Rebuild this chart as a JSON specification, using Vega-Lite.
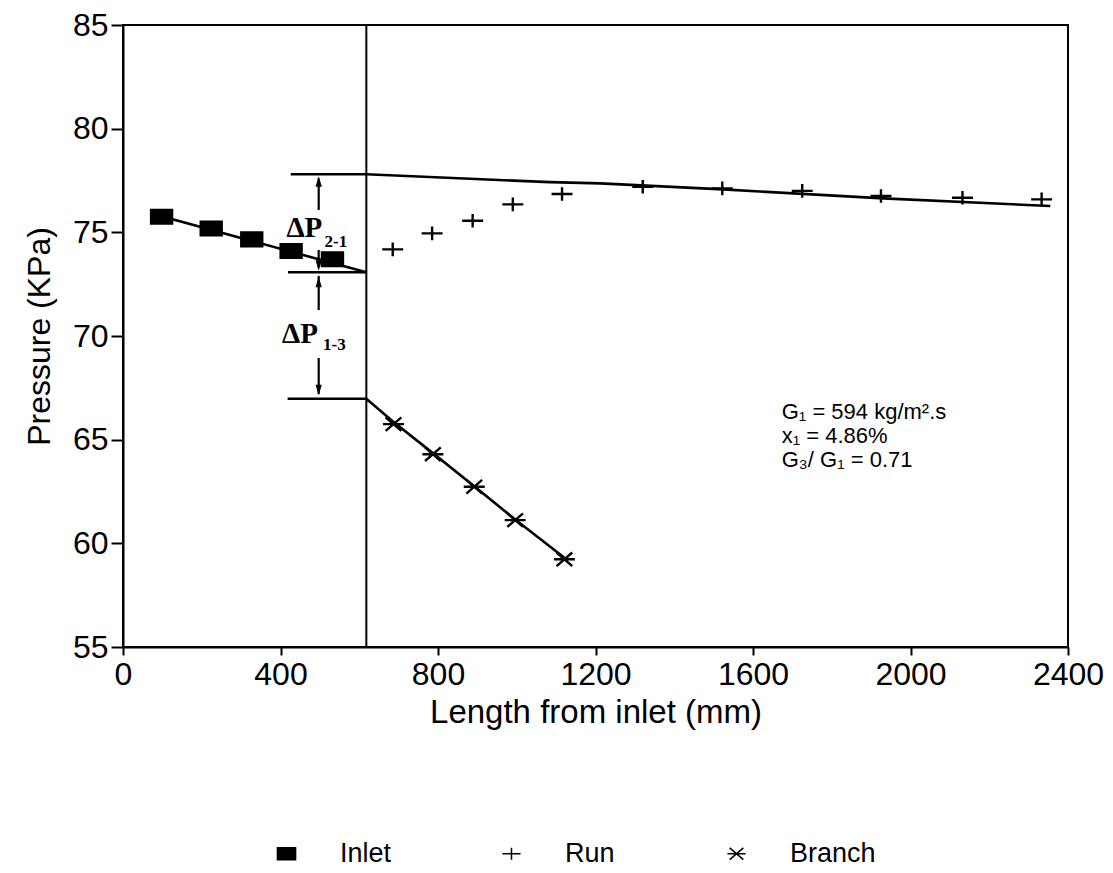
{
  "$schema": "https://vega.github.io/schema/vega-lite/v6.json",
  "autosize": {"type": "none"},
  "padding": {"left": 123, "top": 25, "right": 45, "bottom": 226},
  "width": 945,
  "height": 622,
  "background": "white",
  "config": {
    "view": {"stroke": "black", "strokeWidth": 2},
    "font": "Liberation Sans",
    "axis": {
      "grid": false,
      "domainColor": "black",
      "domainWidth": 2,
      "tickColor": "black",
      "tickWidth": 2,
      "labelColor": "black",
      "titleColor": "black",
      "labelFont": "Liberation Sans",
      "titleFont": "Liberation Sans",
      "titleFontWeight": "normal"
    }
  },
  "datasets": {
    "markers": [
      {"x": 98, "p": 75.75, "series": "Inlet"},
      {"x": 224, "p": 75.19, "series": "Inlet"},
      {"x": 327, "p": 74.66, "series": "Inlet"},
      {"x": 427, "p": 74.1, "series": "Inlet"},
      {"x": 532, "p": 73.7, "series": "Inlet"},
      {"x": 685, "p": 74.18, "series": "Run"},
      {"x": 785, "p": 74.95, "series": "Run"},
      {"x": 888, "p": 75.56, "series": "Run"},
      {"x": 990, "p": 76.35, "series": "Run"},
      {"x": 1115, "p": 76.85, "series": "Run"},
      {"x": 1320, "p": 77.2, "series": "Run"},
      {"x": 1522, "p": 77.12, "series": "Run"},
      {"x": 1725, "p": 77.0, "series": "Run"},
      {"x": 1925, "p": 76.75, "series": "Run"},
      {"x": 2132, "p": 76.67, "series": "Run"},
      {"x": 2333, "p": 76.59, "series": "Run"},
      {"x": 687, "p": 65.75, "series": "Branch"},
      {"x": 787, "p": 64.3, "series": "Branch"},
      {"x": 892, "p": 62.73, "series": "Branch"},
      {"x": 996, "p": 61.12, "series": "Branch"},
      {"x": 1121, "p": 59.23, "series": "Branch"}
    ],
    "fits": [
      {"x": 98, "p": 75.78, "fit": "inlet"},
      {"x": 618, "p": 73.07, "fit": "inlet"},
      {"x": 426, "p": 77.8, "fit": "run"},
      {"x": 618, "p": 77.8, "fit": "run"},
      {"x": 1084, "p": 77.42, "fit": "run"},
      {"x": 1212, "p": 77.36, "fit": "run"},
      {"x": 1524, "p": 77.07, "fit": "run"},
      {"x": 1931, "p": 76.64, "fit": "run"},
      {"x": 2355, "p": 76.27, "fit": "run"},
      {"x": 618, "p": 66.97, "fit": "branch"},
      {"x": 687, "p": 65.85, "fit": "branch"},
      {"x": 787, "p": 64.35, "fit": "branch"},
      {"x": 892, "p": 62.75, "fit": "branch"},
      {"x": 996, "p": 61.15, "fit": "branch"},
      {"x": 1121, "p": 59.3, "fit": "branch"}
    ],
    "hrefs": [
      {"x": 419, "x2": 618, "p": 73.07},
      {"x": 418, "x2": 618, "p": 66.97}
    ],
    "shafts": [
      {"x": 497, "p": 76.08, "p2": 77.6},
      {"x": 497, "p": 74.15, "p2": 73.3},
      {"x": 497, "p": 72.9, "p2": 71.25},
      {"x": 497, "p": 68.94, "p2": 67.2}
    ],
    "heads_up": [
      {"x": 497, "p": 77.45},
      {"x": 497, "p": 72.6}
    ],
    "heads_down": [
      {"x": 497, "p": 73.4},
      {"x": 497, "p": 67.4}
    ],
    "dp_main": [
      {"x": 415, "p": 74.77, "t": "ΔP"},
      {"x": 404, "p": 69.66, "t": "ΔP"}
    ],
    "dp_sub": [
      {"x": 512, "p": 74.29, "t": "2-1"},
      {"x": 508, "p": 69.32, "t": "1-3"}
    ],
    "notes": [
      {"x": 1673, "p": 66.0, "t": ["G₁ = 594 kg/m².s", "x₁ = 4.86%", "G₃/ G₁ = 0.71"]}
    ],
    "vline": [{"x": 618}]
  },
  "layer": [
    {
      "data": {"name": "vline"},
      "mark": {"type": "rule", "color": "black", "strokeWidth": 2},
      "encoding": {
        "x": {"field": "x", "type": "quantitative", "scale": {"domain": [0, 2400]}}
      }
    },
    {
      "data": {"name": "hrefs"},
      "mark": {"type": "rule", "color": "black", "strokeWidth": 2.5},
      "encoding": {
        "x": {"field": "x", "type": "quantitative"},
        "x2": {"field": "x2"},
        "y": {"field": "p", "type": "quantitative"}
      }
    },
    {
      "data": {"name": "shafts"},
      "mark": {"type": "rule", "color": "black", "strokeWidth": 2.2},
      "encoding": {
        "x": {"field": "x", "type": "quantitative"},
        "y": {"field": "p", "type": "quantitative"},
        "y2": {"field": "p2"}
      }
    },
    {
      "data": {"name": "heads_up"},
      "mark": {"type": "point", "shape": "M0,-1L0.6,1L-0.6,1Z", "size": 110, "filled": true, "color": "black", "opacity": 1},
      "encoding": {
        "x": {"field": "x", "type": "quantitative"},
        "y": {"field": "p", "type": "quantitative"}
      }
    },
    {
      "data": {"name": "heads_down"},
      "mark": {"type": "point", "shape": "M0,1L0.6,-1L-0.6,-1Z", "size": 110, "filled": true, "color": "black", "opacity": 1},
      "encoding": {
        "x": {"field": "x", "type": "quantitative"},
        "y": {"field": "p", "type": "quantitative"}
      }
    },
    {
      "data": {"name": "fits"},
      "mark": {"type": "line", "color": "black", "strokeWidth": 2.6},
      "encoding": {
        "x": {"field": "x", "type": "quantitative"},
        "y": {"field": "p", "type": "quantitative"},
        "detail": {"field": "fit", "type": "nominal"}
      }
    },
    {
      "data": {"name": "markers"},
      "mark": {"type": "point", "stroke": "black", "strokeWidth": 2.4, "opacity": 1, "size": 440},
      "encoding": {
        "x": {
          "field": "x", "type": "quantitative",
          "scale": {"domain": [0, 2400], "nice": false, "zero": false},
          "axis": {
            "values": [0, 400, 800, 1200, 1600, 2000, 2400],
            "format": "d",
            "title": "Length from inlet (mm)",
            "labelFontSize": 32,
            "titleFontSize": 33,
            "tickSize": 8,
            "labelPadding": 4,
            "titlePadding": 6,
            "labelFlush": false
          }
        },
        "y": {
          "field": "p", "type": "quantitative",
          "scale": {"domain": [55, 85], "nice": false, "zero": false},
          "axis": {
            "values": [55, 60, 65, 70, 75, 80, 85],
            "format": "d",
            "title": "Pressure (KPa)",
            "labelFontSize": 32,
            "titleFontSize": 32,
            "tickSize": 12,
            "labelPadding": 3,
            "titlePadding": 16,
            "labelFlush": false
          }
        },
        "shape": {
          "field": "series", "type": "nominal",
          "scale": {
            "domain": ["Inlet", "Run", "Branch"],
            "range": [
              "M-1,-0.65L1,-0.65L1,0.65L-1,0.65Z",
              "M-1,0L1,0M0,-0.65L0,0.65",
              "M-1,0L1,0M-0.75,-0.65L0.75,0.65M-0.75,0.65L0.75,-0.65"
            ]
          },
          "legend": {
            "title": null,
            "orient": "none",
            "direction": "horizontal",
            "legendX": 150,
            "legendY": 815,
            "labelFontSize": 27,
            "labelFont": "Liberation Sans",
            "labelColor": "black",
            "symbolSize": 330,
            "labelOffset": 40,
            "gridAlign": "all",
            "columnPadding": 72,
            "padding": 0,
            "encode": {"symbols": {"update": {"stroke": {"value": "black"}, "strokeWidth": {"value": 2}}}}
          }
        },
        "fill": {
          "field": "series", "type": "nominal",
          "scale": {"domain": ["Inlet", "Run", "Branch"], "range": ["black", "transparent", "transparent"]},
          "legend": {
            "title": null,
            "orient": "none",
            "direction": "horizontal",
            "legendX": 150,
            "legendY": 815,
            "labelFontSize": 27,
            "labelFont": "Liberation Sans",
            "labelColor": "black",
            "symbolSize": 330,
            "labelOffset": 40,
            "gridAlign": "all",
            "columnPadding": 72,
            "padding": 0,
            "encode": {"symbols": {"update": {"stroke": {"value": "black"}, "strokeWidth": {"value": 2}}}}
          }
        }
      }
    },
    {
      "data": {"name": "dp_main"},
      "mark": {"type": "text", "align": "left", "baseline": "alphabetic", "font": "Liberation Serif", "fontWeight": "bold", "fontSize": 29, "color": "black"},
      "encoding": {
        "x": {"field": "x", "type": "quantitative"},
        "y": {"field": "p", "type": "quantitative"},
        "text": {"field": "t"}
      }
    },
    {
      "data": {"name": "dp_sub"},
      "mark": {"type": "text", "align": "left", "baseline": "alphabetic", "font": "Liberation Serif", "fontWeight": "bold", "fontSize": 17, "color": "black"},
      "encoding": {
        "x": {"field": "x", "type": "quantitative"},
        "y": {"field": "p", "type": "quantitative"},
        "text": {"field": "t"}
      }
    },
    {
      "data": {"name": "notes"},
      "mark": {"type": "text", "align": "left", "baseline": "alphabetic", "font": "Liberation Sans", "fontSize": 22, "lineHeight": 24, "color": "black"},
      "encoding": {
        "x": {"field": "x", "type": "quantitative"},
        "y": {"field": "p", "type": "quantitative"},
        "text": {"field": "t"}
      }
    }
  ]
}
